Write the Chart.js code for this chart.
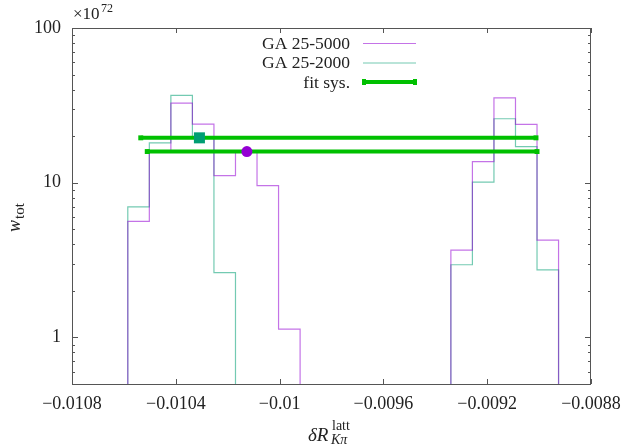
<!DOCTYPE html>
<html>
<head>
<meta charset="utf-8">
<script src="https://cdn.jsdelivr.net/npm/chart.js@4.4.1/dist/chart.umd.min.js"></script>
<style>
  html, body { margin: 0; padding: 0; background: #fff; }
</style>
</head>
<body>
<canvas id="chart" width="623" height="446"></canvas>
<script>
// --- dados ---
const BIN_EDGES = [
  -0.010585, -0.010502, -0.010419, -0.010336, -0.010253, -0.010170, -0.010087,
  -0.010004, -0.009921, -0.009838, -0.009755, -0.009672, -0.009589, -0.009506,
  -0.009423, -0.009340, -0.009257, -0.009174, -0.009091, -0.009008, -0.008925
];
const GA_5000 = [5.62, 15.9, 32.7, 23.9, 11.1, 16.0, 9.57, 1.13, 0, 0, 0, 0, 0, 0, 0, 3.67, 13.7, 35.3, 23.8, 4.26];
const GA_2000 = [6.97, 18.1, 36.7, 19.5, 2.62, 0, 0, 0, 0, 0, 0, 0, 0, 0, 0, 2.95, 10.1, 25.9, 17.1, 2.73];

// fit sys.: [x central, x min, x max, y]
const FIT_5000 = [-0.010126, -0.010510, -0.009008, 15.9];
const FIT_2000 = [-0.010309, -0.010535, -0.009012, 19.5];

const X_TICKS = [-0.0108, -0.0104, -0.01, -0.0096, -0.0092, -0.0088];
const Y_TICKS = [1, 10, 100];
const Y_MIN = 0.5, Y_MAX = 100;

const COR_ROXO = 'rgba(148, 0, 211, 0.55)';
const COR_VERDE_AGUA = 'rgba(0, 158, 115, 0.55)';
const COR_FIT = '#00c000';
const COR_EIXO = '#555';
const FONTE = '"Liberation Serif", "DejaVu Serif", serif';

/**
 * Converte as alturas dos bins em contorno de histograma (degraus)
 */
function contornoHist(vals) {
  const pts = [];
  let aberto = false;
  for (let i = 0; i < vals.length; i++) {
    const v = vals[i];
    if (v > 0) {
      if (!aberto) { pts.push({ x: BIN_EDGES[i], y: Y_MIN }); aberto = true; }
      pts.push({ x: BIN_EDGES[i], y: v });
      pts.push({ x: BIN_EDGES[i + 1], y: v });
    } else if (aberto) {
      pts.push({ x: BIN_EDGES[i], y: Y_MIN });
      pts.push({ x: BIN_EDGES[i], y: null }); // quebra a linha
      aberto = false;
    }
  }
  if (aberto) pts.push({ x: BIN_EDGES[vals.length], y: Y_MIN });
  return pts;
}

function fmtX(v) {
  return String(+v.toPrecision(3)).replace('-', '\u2212');
}

// Plugin: moldura, ticks internos (estilo gnuplot), legenda e títulos
const molduraPlugin = {
  id: 'moldura',
  afterDraw(chart) {
    const { ctx, chartArea: a, scales: { x, y } } = chart;
    ctx.save();
    ctx.strokeStyle = COR_EIXO;
    ctx.lineWidth = 1;
    ctx.strokeRect(a.left + 0.5, a.top + 0.5, a.right - a.left - 1, a.bottom - a.top);

    ctx.beginPath();
    // ticks do eixo x (baixo e topo)
    X_TICKS.forEach(v => {
      const px = Math.round(x.getPixelForValue(v)) + 0.5;
      ctx.moveTo(px, a.bottom); ctx.lineTo(px, a.bottom - 5);
      ctx.moveTo(px, a.top); ctx.lineTo(px, a.top + 5);
    });
    // ticks do eixo y log (maiores e menores)
    for (let dec = 0.1; dec < Y_MAX; dec *= 10) {
      for (let m = 1; m <= 9; m++) {
        const v = dec * m;
        if (v < Y_MIN - 1e-9 || v > Y_MAX + 1e-9) continue;
        const len = m === 1 ? 6 : 3;
        const py = Math.round(y.getPixelForValue(v)) + 0.5;
        ctx.moveTo(a.left, py); ctx.lineTo(a.left + len, py);
        ctx.moveTo(a.right, py); ctx.lineTo(a.right - len, py);
      }
    }
    ctx.stroke();

    // multiplicador do eixo y
    ctx.fillStyle = '#222';
    ctx.textBaseline = 'alphabetic';
    ctx.textAlign = 'left';
    ctx.font = '17px ' + FONTE;
    ctx.fillText('\u00d710', 73, 19);
    ctx.font = '12px ' + FONTE;
    ctx.fillText('72', 101, 12);

    // legenda
    const itens = [
      { txt: 'GA 25-5000', cor: COR_ROXO, w: 1, yTxt: 48.5, yLin: 43.5 },
      { txt: 'GA 25-2000', cor: COR_VERDE_AGUA, w: 1, yTxt: 68, yLin: 63 },
      { txt: 'fit sys.', cor: COR_FIT, w: 4, yTxt: 87.5, yLin: 82, caps: true }
    ];
    ctx.font = '17.5px ' + FONTE;
    ctx.textAlign = 'right';
    itens.forEach(it => {
      ctx.fillStyle = '#222';
      ctx.fillText(it.txt, 350, it.yTxt);
      ctx.strokeStyle = it.cor;
      ctx.lineWidth = it.w;
      ctx.beginPath();
      ctx.moveTo(363, it.yLin); ctx.lineTo(416, it.yLin);
      ctx.stroke();
      if (it.caps) {
        ctx.fillStyle = COR_FIT;
        ctx.fillRect(362, it.yLin - 3, 4, 6);
        ctx.fillRect(413, it.yLin - 3, 4, 6);
      }
    });

    // título do eixo x: δR^latt_Kπ
    ctx.fillStyle = '#222';
    ctx.textAlign = 'left';
    ctx.font = 'italic 19px ' + FONTE;
    ctx.fillText('\u03b4R', 308, 441);
    ctx.font = '14px ' + FONTE;
    ctx.fillText('latt', 332, 430);
    ctx.font = 'italic 14px ' + FONTE;
    ctx.fillText('K\u03c0', 331, 444);

    // título do eixo y: w_tot
    ctx.translate(19.5, 232);
    ctx.rotate(-Math.PI / 2);
    ctx.font = 'italic 18px ' + FONTE;
    ctx.fillText('w', 0, 0);
    ctx.font = '15px ' + FONTE;
    ctx.fillText('tot', 13, 4);
    ctx.restore();
  }
};

const pt = (f) => [{ x: f[1], y: f[3] }, { x: f[2], y: f[3] }];

new Chart(document.getElementById('chart'), {
  type: 'line',
  data: {
    datasets: [
      {
        label: 'GA 25-5000 ponto',
        data: [{ x: FIT_5000[0], y: FIT_5000[3] }],
        showLine: false,
        pointStyle: 'circle',
        pointRadius: 5.5,
        pointBackgroundColor: '#9400d3',
        pointBorderWidth: 0,
        order: 0
      },
      {
        label: 'GA 25-2000 ponto',
        data: [{ x: FIT_2000[0], y: FIT_2000[3] }],
        showLine: false,
        pointStyle: 'rect',
        pointRadius: 7.8,
        pointBackgroundColor: '#009e73',
        pointBorderWidth: 0,
        order: 0
      },
      {
        label: 'fit sys. 5000',
        data: pt(FIT_5000),
        borderColor: COR_FIT,
        borderWidth: 4,
        pointStyle: 'rect',
        pointRadius: 3.5,
        pointBackgroundColor: COR_FIT,
        pointBorderWidth: 0,
        order: 1
      },
      {
        label: 'fit sys. 2000',
        data: pt(FIT_2000),
        borderColor: COR_FIT,
        borderWidth: 4,
        pointStyle: 'rect',
        pointRadius: 3.5,
        pointBackgroundColor: COR_FIT,
        pointBorderWidth: 0,
        order: 1
      },
      {
        label: 'GA 25-5000',
        data: contornoHist(GA_5000),
        borderColor: COR_ROXO,
        borderWidth: 1.2,
        pointRadius: 0,
        spanGaps: false,
        order: 2
      },
      {
        label: 'GA 25-2000',
        data: contornoHist(GA_2000),
        borderColor: COR_VERDE_AGUA,
        borderWidth: 1.2,
        pointRadius: 0,
        spanGaps: false,
        order: 2
      }
    ]
  },
  options: {
    responsive: false,
    animation: false,
    events: [],
    layout: { padding: { left: 0, right: 32, top: 28, bottom: 0 } },
    plugins: {
      legend: { display: false },
      tooltip: { enabled: false }
    },
    scales: {
      x: {
        type: 'linear',
        min: -0.0108,
        max: -0.0088,
        afterBuildTicks: (s) => { s.ticks = X_TICKS.map(v => ({ value: v })); },
        afterFit: (s) => { s.height = 62; s.paddingLeft = 0; s.paddingRight = 0; },
        grid: { display: false, drawTicks: false },
        border: { display: false },
        ticks: {
          callback: (v) => fmtX(v),
          font: { family: FONTE, size: 18 },
          color: '#222',
          padding: 9,
          maxRotation: 0,
          autoSkip: false
        }
      },
      y: {
        type: 'logarithmic',
        min: Y_MIN,
        max: Y_MAX,
        afterBuildTicks: (s) => { s.ticks = Y_TICKS.map(v => ({ value: v })); },
        afterFit: (s) => { s.width = 72; s.paddingTop = 0; s.paddingBottom = 0; },
        grid: { display: false, drawTicks: false },
        border: { display: false },
        ticks: {
          callback: (v) => String(v),
          font: { family: FONTE, size: 18 },
          color: '#222',
          padding: 11
        }
      }
    }
  },
  plugins: [molduraPlugin]
});
</script>
</body>
</html>
